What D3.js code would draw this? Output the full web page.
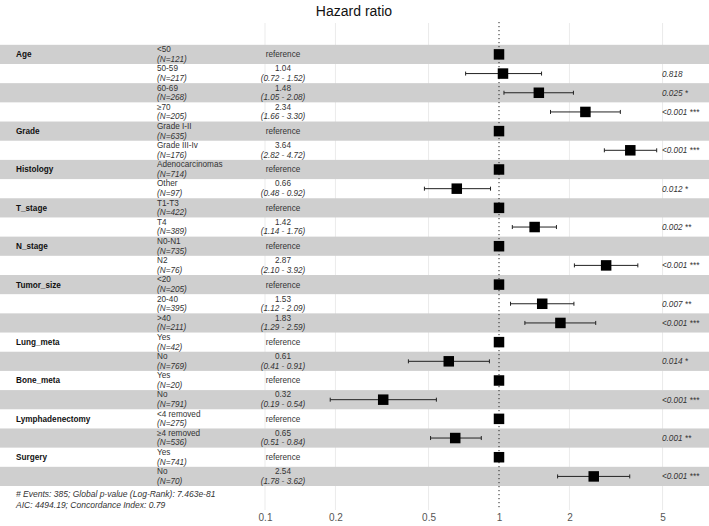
<!DOCTYPE html>
<html>
<head>
<meta charset="utf-8">
<script src="https://cdn.jsdelivr.net/npm/d3@7/dist/d3.min.js"></script>
<style>
  body { margin: 0; background: #fff; }
  svg { display: block; font-family: "Liberation Sans", Arial, sans-serif; }
</style>
</head>
<body>
<svg id="chart" width="709" height="526"></svg>
<script>
// ---- data ----
const variables = ["Age","","","","Grade","","Histology","","T_stage","","N_stage","","Tumor_size","","","Lung_meta","","Bone_meta","","Lymphadenectomy","","Surgery",""];
const levels = ["<50","50-59","60-69","≥70","Grade I-II","Grade III-Iv","Adenocarcinomas","Other","T1-T3","T4","N0-N1","N2","<20","20-40",">40","Yes","No","Yes","No","<4 removed","≥4 removed","Yes","No"];
const counts = [121,217,268,205,635,176,714,97,422,389,735,76,205,395,211,42,769,20,791,275,536,741,70];
const hr    = [1,1.04,1.48,2.34,1,3.64,1,0.66,1,1.42,1,2.87,1,1.53,1.83,1,0.61,1,0.32,1,0.65,1,2.54];
const lower = [null,0.72,1.05,1.66,null,2.82,null,0.48,null,1.14,null,2.10,null,1.12,1.29,null,0.41,null,0.19,null,0.51,null,1.78];
const upper = [null,1.52,2.08,3.30,null,4.72,null,0.92,null,1.76,null,3.92,null,2.09,2.59,null,0.91,null,0.54,null,0.84,null,3.62];
const pvals = ["","0.818","0.025 *","<0.001 ***","","<0.001 ***","","0.012 *","","0.002 **","","<0.001 ***","","0.007 **","<0.001 ***","","0.014 *","","<0.001 ***","","0.001 **","","<0.001 ***"];
const tickValues = [0.1, 0.2, 0.5, 1, 2, 5];
const tickLabels = ["0.1","0.2","0.5","1","2","5"];
const footer = ["# Events: 385; Global p-value (Log-Rank): 7.463e-81", "AIC: 4494.19; Concordance Index: 0.79"];
const title = "Hazard ratio";

// ---- layout ----
const W = 709, H = 526;
const svg = d3.select("#chart");
const x = d3.scaleLog().domain([0.1, 1]).range([265, 499]);
const idx = d3.range(levels.length);
const y = d3.scaleBand().domain(idx).range([44.8, 486]).padding(0);
const cy = i => y(i) + y.bandwidth() / 2;
const fs = 8.2;
const l1 = -2.2, l2 = 7.4;
const colVar = 16, colLev = 157, colHR = 283, colP = 662;

// gridlines
svg.append("g").selectAll("line").data(tickValues.filter(v => v !== 1)).join("line")
  .attr("x1", d => x(d)).attr("x2", d => x(d))
  .attr("y1", 23).attr("y2", 510)
  .attr("stroke", "#EBEBEB").attr("stroke-width", 1);

// bands
svg.append("g").selectAll("rect").data(idx.filter(i => i % 2 === 0)).join("rect")
  .attr("x", 0).attr("width", W)
  .attr("y", d => y(d)).attr("height", y.bandwidth())
  .attr("fill", "#CFCFCF");

// dotted reference line
svg.append("line")
  .attr("x1", x(1)).attr("x2", x(1)).attr("y1", 22).attr("y2", 510)
  .attr("stroke", "#222").attr("stroke-width", 1).attr("stroke-dasharray", "1.2,2.8");

// title
svg.append("text").attr("x", 354).attr("y", 16).attr("text-anchor", "middle")
  .attr("font-size", 14).attr("fill", "#111").text(title);

// variable names
svg.append("g").selectAll("text").data(idx.filter(i => variables[i])).join("text")
  .attr("x", colVar).attr("y", d => cy(d) + 3)
  .attr("font-size", fs).attr("font-weight", "bold").attr("fill", "#111")
  .text(d => variables[d]);

// levels with N
const lev = svg.append("g").selectAll("g").data(idx).join("g");
lev.append("text").attr("x", colLev).attr("y", d => cy(d) + l1)
  .attr("font-size", fs).attr("fill", "#333").text(d => levels[d]);
lev.append("text").attr("x", colLev).attr("y", d => cy(d) + l2)
  .attr("font-size", fs).attr("font-style", "italic").attr("fill", "#333")
  .text(d => "(N=" + counts[d] + ")");

// HR column
const hrg = svg.append("g").selectAll("g").data(idx).join("g");
hrg.filter(d => lower[d] === null).append("text")
  .attr("x", colHR).attr("y", d => cy(d) + 3).attr("text-anchor", "middle")
  .attr("font-size", fs).attr("fill", "#333").text("reference");
hrg.filter(d => lower[d] !== null).append("text")
  .attr("x", colHR).attr("y", d => cy(d) + l1).attr("text-anchor", "middle")
  .attr("font-size", fs).attr("fill", "#333").text(d => hr[d].toFixed(2));
hrg.filter(d => lower[d] !== null).append("text")
  .attr("x", colHR).attr("y", d => cy(d) + l2).attr("text-anchor", "middle")
  .attr("font-size", fs).attr("font-style", "italic").attr("fill", "#333")
  .text(d => "(" + lower[d].toFixed(2) + " - " + upper[d].toFixed(2) + ")");

// error bars
const eb = svg.append("g").selectAll("g").data(idx.filter(i => lower[i] !== null)).join("g")
  .attr("stroke", "#222").attr("stroke-width", 1);
eb.append("line").attr("x1", d => x(lower[d])).attr("x2", d => x(upper[d]))
  .attr("y1", cy).attr("y2", cy);
eb.append("line").attr("x1", d => x(lower[d])).attr("x2", d => x(lower[d]))
  .attr("y1", d => cy(d) - 2).attr("y2", d => cy(d) + 2);
eb.append("line").attr("x1", d => x(upper[d])).attr("x2", d => x(upper[d]))
  .attr("y1", d => cy(d) - 2).attr("y2", d => cy(d) + 2);

// points
const sq = 10.5;
svg.append("g").selectAll("rect").data(idx).join("rect")
  .attr("x", d => x(hr[d]) - sq / 2).attr("y", d => cy(d) - sq / 2)
  .attr("width", sq).attr("height", sq).attr("fill", "#000");

// p-values
svg.append("g").selectAll("text").data(idx.filter(i => pvals[i])).join("text")
  .attr("x", colP).attr("y", d => cy(d) + 3)
  .attr("font-size", fs).attr("font-style", "italic").attr("fill", "#333")
  .text(d => pvals[d]);

// footer
svg.append("g").selectAll("text").data(footer).join("text")
  .attr("x", colVar).attr("y", (d, i) => 497 + i * 10.5)
  .attr("font-size", 8.5).attr("font-style", "italic").attr("fill", "#333")
  .text(d => d);

// axis
const axis = d3.axisBottom(x).tickValues(tickValues).tickFormat((d, i) => tickLabels[i]).tickSize(0).tickPadding(0);
const ag = svg.append("g").attr("transform", "translate(0,514)").call(axis);
ag.select(".domain").remove();
ag.selectAll("text").attr("font-size", 10).attr("fill", "#555")
  .attr("font-family", "Liberation Sans, Arial, sans-serif").attr("dy", "0.71em");
</script>
</body>
</html>
